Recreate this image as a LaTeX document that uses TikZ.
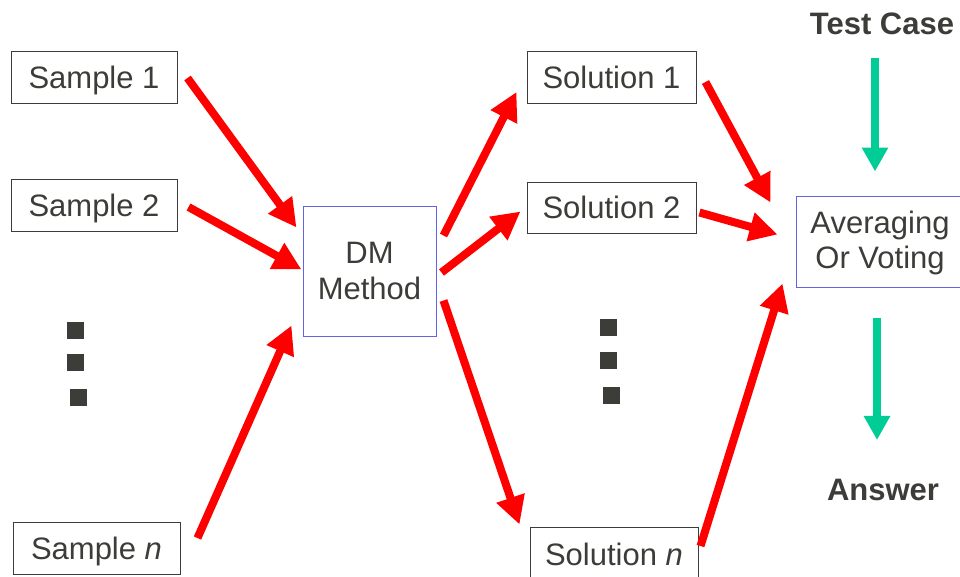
\documentclass[tikz,border=0pt]{standalone}
\usepackage{fontspec}
\setmainfont{Liberation Sans}
\usetikzlibrary{arrows.meta}
\definecolor{txt}{RGB}{60,60,56}
\definecolor{redarr}{RGB}{255,0,0}
\definecolor{greenarr}{RGB}{0,204,150}
\definecolor{bluebd}{RGB}{100,100,225}
\tikzset{
  box/.style={draw=txt, line width=1pt, rectangle, inner sep=0pt, text=txt, font=\fontsize{31}{36}\selectfont, align=center},
  sbox/.style={box, text depth=0pt},
  bbox/.style={box, draw=bluebd},
  lbl/.style={inner sep=0pt, text=txt, font=\fontsize{31}{36}\selectfont\bfseries},
  rarr/.style={draw=redarr, line width=8pt, -{Triangle[length=28pt,width=28pt]}},
  garr/.style={draw=greenarr, line width=8pt, -{Triangle[length=24pt,width=25pt]}},
  dot/.style={fill=txt}
}
\begin{document}
\begin{tikzpicture}[x=1pt,y=-1pt]
\useasboundingbox (0,0) rectangle (960,576);
\clip (0,0) rectangle (960,576);
% boxes
\node[sbox, minimum width=166pt, minimum height=52pt] (s1) at (94,77) {Sample 1};
\node[sbox, minimum width=166pt, minimum height=52pt] (s2) at (94,205) {Sample 2};
\node[sbox, minimum width=167pt, minimum height=52pt] (sn) at (96.5,548) {Sample \textit{n}};
\node[bbox, minimum width=133pt, minimum height=130pt] (dm) at (369.5,271) {DM\\Method};
\node[sbox, minimum width=169pt, minimum height=52pt] (o1) at (611.5,77) {Solution 1};
\node[sbox, minimum width=169pt, minimum height=51pt] (o2) at (611.5,207.5) {Solution 2};
\node[sbox, minimum width=168pt, minimum height=54pt] (on) at (614,554) {Solution \textit{n}};
\node[bbox, minimum width=168pt, minimum height=91pt, font=\fontsize{31}{35}\selectfont, text depth=3pt] (avg) at (880,241.5) {Averaging\\Or Voting};
\node[lbl] (tc) at (882,24) {Test Case};
\node[lbl] (ans) at (883,490) {Answer};
% red arrows
\draw[rarr] ([shift={(10,1)}]s1.east) -- ([shift={(-6,22)}]dm.north west);
\draw[rarr] ([shift={(11,2)}]s2.east) -- ([shift={(-1,64)}]dm.north west);
\draw[rarr] ([shift={(17,-10)}]sn.east) -- ([shift={(-11,-11)}]dm.south west);
\draw[rarr] ([shift={(7,30)}]dm.north east) -- ([shift={(-10,15)}]o1.west);
\draw[rarr] ([shift={(5,67)}]dm.north east) -- ([shift={(-6,4)}]o2.west);
\draw[rarr] ([shift={(7,-36)}]dm.south east) -- ([shift={(-10,-2)}]on.north west);
\draw[rarr] ([shift={(9,5)}]o1.east) -- ([shift={(-25,7)}]avg.north west);
\draw[rarr] ([shift={(3,5)}]o2.east) -- ([shift={(-18,-7)}]avg.west);
\draw[rarr] ([shift={(2,-8)}]on.east) -- ([shift={(-13,-4)}]avg.south west);
% green arrows
\draw[garr] ([shift={(-7,23)}]tc.south) -- ([shift={(-5,-24)}]avg.north);
\draw[garr] ([shift={(-3,30)}]avg.south) -- ([shift={(-6,-39)}]ans.north);
% dots
\fill[dot] (67,322) rectangle (84,339);
\fill[dot] (67,354) rectangle (84,371);
\fill[dot] (70,389) rectangle (87,406);
\fill[dot] (600,319) rectangle (617,336);
\fill[dot] (600,352) rectangle (617,369);
\fill[dot] (603,387) rectangle (620,404);
\end{tikzpicture}
\end{document}
